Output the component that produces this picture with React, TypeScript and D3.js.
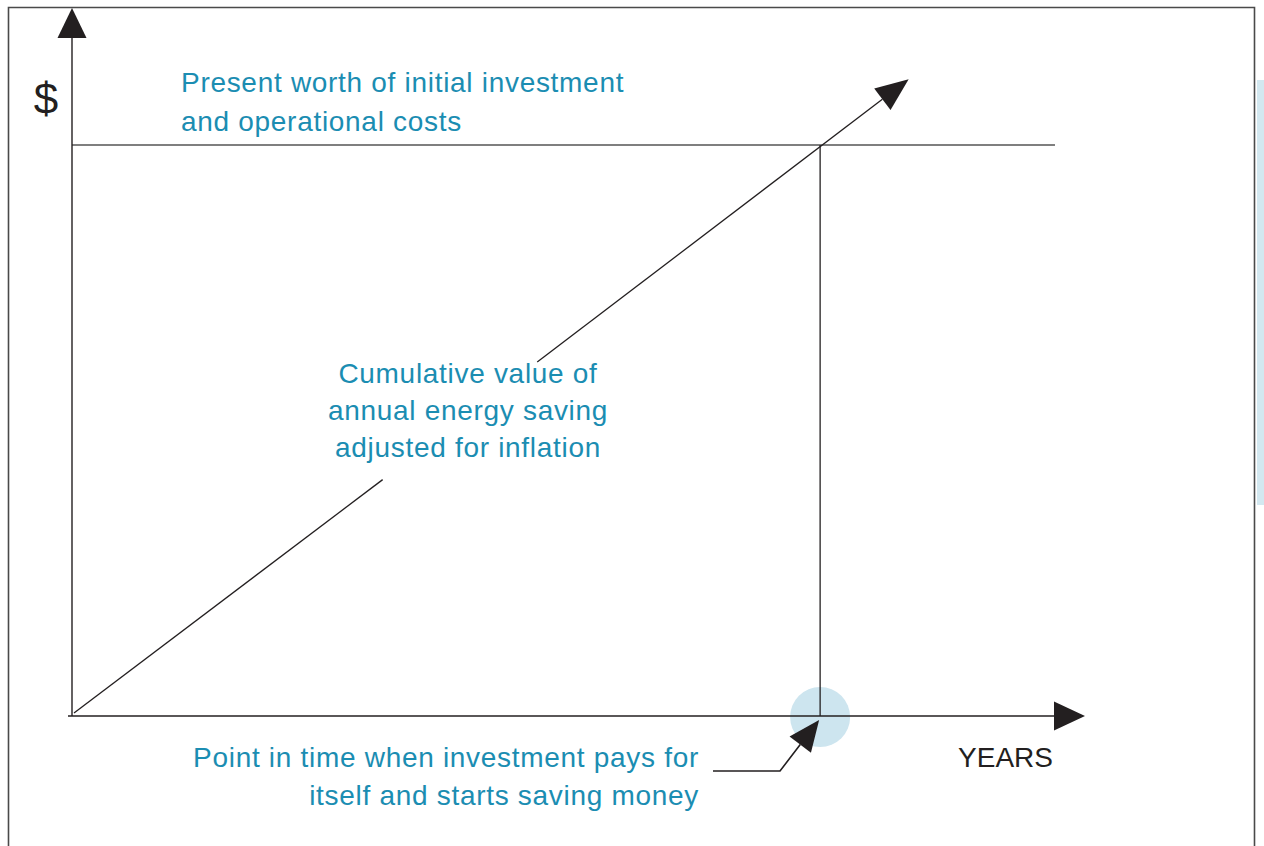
import React from "react";
import * as d3 from "d3";

// ---- data (conceptual payback diagram) ----
const axisMaxYears = 13.5;
const axisMaxDollars = 124;
const investmentLevel = 100; // present worth of initial investment and operational costs
const investmentSpanYears = [0, 13.1];
const paybackYear = 9.97;
const savingsYears = [0, 11.15];
const savingsValues = [0, 111.5];
const savingsGapYears = [4.14, 6.2]; // break in line for label

const investmentLabel = ["Present worth of initial investment", "and operational costs"];
const savingsLabel = ["Cumulative value of", "annual energy saving", "adjusted for inflation"];
const paybackLabel = ["Point in time when investment pays for", "itself and starts saving money"];
const xAxisLabel = "YEARS";
const yAxisLabel = "$";

const W = 1264;
const H = 846;
const TEAL = "#1b8db2";
const INK = "#231f20";
const FONT = "'Liberation Sans', Arial, Helvetica, sans-serif";
const LS = 0.7;

function arrowHead(tipX: number, tipY: number, fromX: number, fromY: number, len: number, half: number) {
  const dx = tipX - fromX;
  const dy = tipY - fromY;
  const d = Math.hypot(dx, dy);
  const ux = dx / d, uy = dy / d;
  const bx = tipX - ux * len, by = tipY - uy * len;
  const px = -uy, py = ux;
  return {
    points: `${tipX},${tipY} ${bx + px * half},${by + py * half} ${bx - px * half},${by - py * half}`,
    bx,
    by,
  };
}

export default function App() {
  const x = d3.scaleLinear().domain([0, axisMaxYears]).range([72, 1085]);
  const y = d3.scaleLinear().domain([0, axisMaxDollars]).range([716, 8]);

  const x0 = x(0), y0 = y(0);

  // axes
  const yTip = { x: x0, y: y(axisMaxDollars) };
  const yArrow = arrowHead(yTip.x, yTip.y, x0, y0, 30, 14.5);
  const xTip = { x: x(axisMaxYears), y: y0 };
  const xArrow = arrowHead(xTip.x, xTip.y, x0, y0, 31, 14.5);

  // savings line
  const sTip = { x: x(savingsYears[1]), y: y(savingsValues[1]) };
  const sStart = { x: x(savingsYears[0]) + 2, y: y(savingsValues[0]) - 3 };
  const sArrow = arrowHead(sTip.x, sTip.y, sStart.x, sStart.y, 33, 13.5);
  const slope = (savingsValues[1] - savingsValues[0]) / (savingsYears[1] - savingsYears[0]);
  const gapA = { x: x(savingsGapYears[0]), y: y(savingsGapYears[0] * slope) };
  const gapB = { x: x(savingsGapYears[1]), y: y(savingsGapYears[1] * slope) };

  // payback pointer
  const pbX = x(paybackYear);
  const pTip = { x: pbX - 1, y: y0 + 4 };
  const elbow = { x: 780, y: 771 };
  const pArrow = arrowHead(pTip.x, pTip.y, elbow.x, elbow.y, 31, 13.5);

  const line = d3.line<[number, number]>();

  return (
    <svg
      width={W}
      height={H}
      viewBox={`0 0 ${W} ${H}`}
      style={{ position: "absolute", left: 0, top: 0, background: "#fff" }}
      fontFamily={FONT}
    >
      {/* frame */}
      <path d={`M8.5,${H + 5} V7.5 H1254.5 V${H + 5}`} fill="none" stroke="#4a4a4a" strokeWidth={1.6} />
      {/* side strip */}
      <rect x={1257} y={80} width={7} height={425} fill="#d3e8f0" />

      {/* payback highlight */}
      <circle cx={pbX} cy={y0 + 1} r={30} fill="#cde5ef" />

      {/* investment level */}
      <path
        d={line([[x(investmentSpanYears[0]), y(investmentLevel)], [x(investmentSpanYears[1]), y(investmentLevel)]]) || ""}
        stroke="#555"
        strokeWidth={1.6}
        fill="none"
      />
      {/* payback vertical */}
      <path d={line([[pbX, y(investmentLevel)], [pbX, y0]]) || ""} stroke={INK} strokeWidth={1.3} fill="none" />

      {/* axes */}
      <path d={line([[x0, y0], [x0, yArrow.by]]) || ""} stroke={INK} strokeWidth={1.4} fill="none" />
      <polygon points={yArrow.points} fill={INK} />
      <path d={line([[x0 - 4, y0], [xArrow.bx, y0]]) || ""} stroke={INK} strokeWidth={1.6} fill="none" />
      <polygon points={xArrow.points} fill={INK} />

      {/* savings line */}
      <path d={line([[sStart.x, sStart.y], [gapA.x, gapA.y]]) || ""} stroke={INK} strokeWidth={1.3} fill="none" />
      <path d={line([[gapB.x, gapB.y], [sArrow.bx, sArrow.by]]) || ""} stroke={INK} strokeWidth={1.3} fill="none" />
      <polygon points={sArrow.points} fill={INK} />

      {/* payback pointer */}
      <path
        d={line([[713, elbow.y], [elbow.x, elbow.y], [pArrow.bx, pArrow.by]]) || ""}
        stroke={INK}
        strokeWidth={1.6}
        fill="none"
      />
      <polygon points={pArrow.points} fill={INK} />

      {/* labels */}
      <text x={46} y={114} fontSize={44} fill={INK} textAnchor="middle">
        {yAxisLabel}
      </text>
      <text x={1053} y={767} fontSize={28} fill={INK} textAnchor="end">
        {xAxisLabel}
      </text>

      {investmentLabel.map((t, i) => (
        <text key={t} x={181} y={92 + i * 38.5} fontSize={28} letterSpacing={LS} fill={TEAL}>
          {t}
        </text>
      ))}
      {savingsLabel.map((t, i) => (
        <text key={t} x={468} y={383 + i * 37} fontSize={28} letterSpacing={LS} fill={TEAL} textAnchor="middle">
          {t}
        </text>
      ))}
      {paybackLabel.map((t, i) => (
        <text key={t} x={699} y={767 + i * 38} fontSize={28} letterSpacing={LS} fill={TEAL} textAnchor="end">
          {t}
        </text>
      ))}
    </svg>
  );
}
